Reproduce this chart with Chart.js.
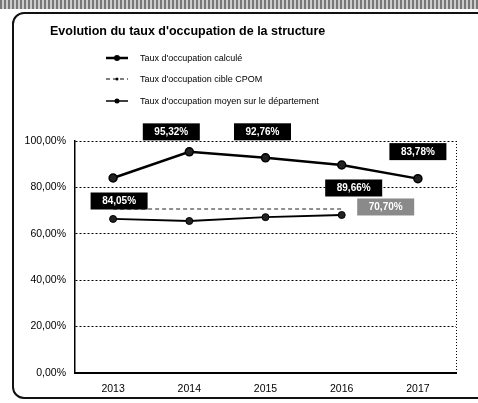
<!DOCTYPE html>
<html><head><meta charset="utf-8">
<script src="https://cdn.jsdelivr.net/npm/chart.js@4/dist/chart.umd.min.js"></script>
<style>
html,body{margin:0;padding:0;background:#fff;width:478px;height:403px;overflow:hidden;font-family:"Liberation Sans",Arial,sans-serif}
#band{position:absolute;left:0;top:0;width:478px;height:9px;background:repeating-linear-gradient(90deg,#777 0 2px,#ccc 2px 4px)}
#frame{position:absolute;left:12px;top:12px;width:480px;height:387px;border:2px solid #111;border-radius:12px;box-sizing:border-box}
#title{position:absolute;left:50px;top:24px;font-size:12.5px;font-weight:bold;color:#000;white-space:nowrap}
.leg{position:absolute;left:106px;height:14px;font-size:9px;color:#000;white-space:nowrap;display:flex;align-items:center}
.leg svg{margin-right:12px}
#c{position:absolute;left:0;top:0}
</style></head>
<body>
<div id="band"></div>
<div id="frame"></div>
<canvas id="c" width="478" height="403"></canvas>
<div id="title">Evolution du taux d'occupation de la structure</div>
<div id="legend"></div>
<script>
const years = ["2013","2014","2015","2016","2017"];
const seriesNames = ["Taux d'occupation calculé","Taux d'occupation cible CPOM","Taux d'occupation moyen sur le département"];
const tauxCalcule = [84.05, 95.32, 92.76, 89.66, 83.78];
const tauxCible = [70.70, 70.70, 70.70, 70.70, null];
const tauxDepartement = [66.40, 65.52, 67.18, 68.10, null];
const yTicks = [0, 20, 40, 60, 80, 100];

const fmt = v => v.toFixed(2).replace('.', ',') + '%';

const legStyles = [
  '<svg width="22" height="8"><line x1="0" y1="4" x2="22" y2="4" stroke="#000" stroke-width="2.5"/><circle cx="11" cy="4" r="3" fill="#000"/></svg>',
  '<svg width="22" height="8"><line x1="0" y1="4" x2="22" y2="4" stroke="#000" stroke-width="1.2" stroke-dasharray="4,3"/><circle cx="11" cy="4" r="1.5" fill="#000"/></svg>',
  '<svg width="22" height="8"><line x1="0" y1="4" x2="22" y2="4" stroke="#000" stroke-width="1.5"/><circle cx="11" cy="4" r="2.5" fill="#000"/></svg>'
];
const legTops = [51, 72, 94];
document.getElementById('legend').innerHTML = seriesNames.map((n,i)=>
  `<div class="leg" style="top:${legTops[i]}px">${legStyles[i]}${n}</div>`).join('');

const labelCfg = {
  0: {show:[0,1,2,3,4], off:[[6,23],[-18,-20],[-3,-26],[12,23],[0,-27]], bg:'#000', fg:'#fff'},
  1: {show:[3], off:[[0,0],[0,0],[0,0],[44,-2],[0,0]], bg:'#8a8a8a', fg:'#fff'}
};

const labelPlugin = {
  id:'boxLabels',
  afterDatasetsDraw(chart){
    const ctx = chart.ctx;
    ctx.save();
    ctx.font = 'bold 10px "Liberation Sans", Arial, sans-serif';
    ctx.textAlign = 'center'; ctx.textBaseline = 'middle';
    Object.keys(labelCfg).forEach(di=>{
      const cfg = labelCfg[di];
      const meta = chart.getDatasetMeta(+di);
      const data = chart.data.datasets[di].data;
      cfg.show.forEach(i=>{
        const p = meta.data[i]; if(!p || data[i]==null) return;
        const x = p.x + cfg.off[i][0], y = p.y + cfg.off[i][1];
        const w = 57, h = 17;
        ctx.fillStyle = cfg.bg;
        ctx.fillRect(x - w/2, y - h/2, w, h);
        ctx.fillStyle = cfg.fg;
        ctx.fillText(fmt(data[i]), x, y + 0.5);
      });
    });
    ctx.restore();
  }
};

const rightBorder = {
  id:'rightBorder',
  beforeDatasetsDraw(chart){
    const {ctx, chartArea:a} = chart;
    ctx.save();
    ctx.strokeStyle = '#000'; ctx.lineWidth = 1; ctx.setLineDash([1,2]);
    ctx.beginPath(); ctx.moveTo(a.right+0.5, a.top); ctx.lineTo(a.right+0.5, a.bottom); ctx.stroke();
    ctx.restore();
  }
};

new Chart(document.getElementById('c'), {
  type:'line',
  data:{
    labels: years,
    datasets:[
      {label:seriesNames[0], data:tauxCalcule, borderColor:'#000', backgroundColor:'#000', borderWidth:2.5,
       pointRadius:4, pointBackgroundColor:'#222', pointBorderColor:'#000', pointBorderWidth:1.5, tension:0},
      {label:seriesNames[1], data:tauxCible, borderColor:'#222', backgroundColor:'#222', borderWidth:1.2, borderDash:[4,3],
       pointRadius:0, tension:0, spanGaps:false},
      {label:seriesNames[2], data:tauxDepartement, borderColor:'#000', backgroundColor:'#000', borderWidth:1.8,
       pointRadius:3.5, pointBackgroundColor:'#222', pointBorderColor:'#000', pointBorderWidth:1, tension:0}
    ]
  },
  options:{
    responsive:false, animation:false, devicePixelRatio:1,
    layout:{padding:{left:15, right:22, top:141, bottom:0}},
    plugins:{legend:{display:false}, title:{display:false}, tooltip:{enabled:false}},
    scales:{
      x:{
        offset:true,
        grid:{display:false, drawTicks:false},
        border:{display:true, color:'#000', width:2},
        ticks:{color:'#000', font:{size:10.5, family:'"Liberation Sans", Arial'}, padding:10},
        afterFit:s=>{s.height = 30;}
      },
      y:{
        min:0, max:100,
        afterBuildTicks:s=>{s.ticks = yTicks.map(v=>({value:v}));},
        grid:{color:'#000', lineWidth:1, drawTicks:false},
        border:{display:true, color:'#000', width:1.5, dash:[2,2]},
        ticks:{color:'#000', font:{size:10.5, family:'"Liberation Sans", Arial'}, padding:9,
               callback:v=>fmt(v)},
        afterFit:s=>{s.width = 60;}
      }
    }
  },
  plugins:[rightBorder, labelPlugin]
});
</script>
</body></html>
